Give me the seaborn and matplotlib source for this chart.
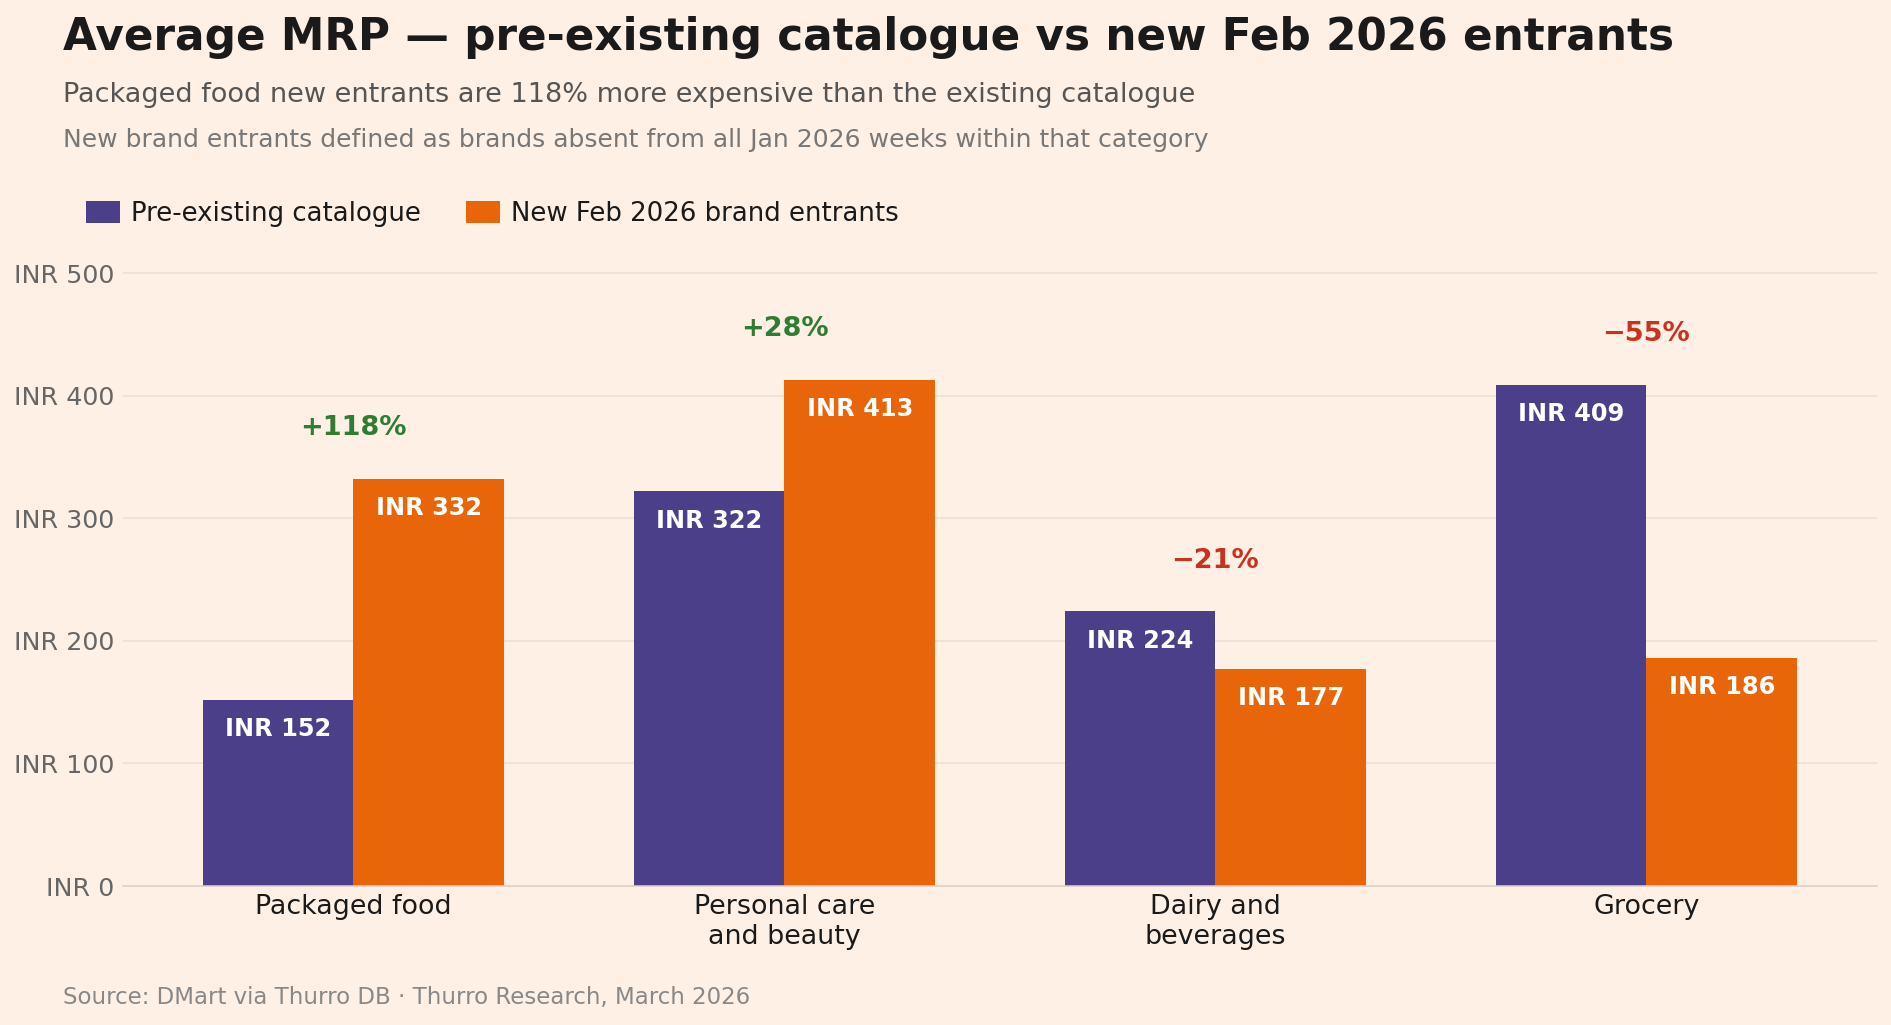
import matplotlib
matplotlib.use("Agg")
import matplotlib.pyplot as plt
from matplotlib.patches import Patch
import seaborn as sns
import pandas as pd

categories = ["Packaged food", "Personal care\nand beauty", "Dairy and\nbeverages", "Grocery"]
pre_existing = [152, 322, 224, 409]
new_entrants = [332, 413, 177, 186]
pct_labels = ["+118%", "+28%", "\u221221%", "\u221255%"]
series_names = ["Pre-existing catalogue", "New Feb 2026 brand entrants"]
y_ticks = [0, 100, 200, 300, 400, 500]

BG = "#FFF0E5"
PURPLE = "#4B3F89"
ORANGE = "#E8650A"
GREEN = "#2E7D32"
RED = "#C8321E"

sns.set_theme(style="white")
plt.rcParams["font.family"] = ["DejaVu Sans"]

df = pd.DataFrame({
    "category": categories * 2,
    "value": pre_existing + new_entrants,
    "series": [series_names[0]] * 4 + [series_names[1]] * 4,
})

fig = plt.figure(figsize=(18.91, 10.25), dpi=100, facecolor=BG)
ax = fig.add_axes([0.065, 0.1356, 0.9276, 0.598])
ax.set_facecolor(BG)

sns.barplot(data=df, x="category", y="value", hue="series", order=categories,
            hue_order=series_names, palette=[PURPLE, ORANGE], width=0.7,
            saturation=1, legend=False, ax=ax, errorbar=None, linewidth=0)

ax.set_ylim(0, 500)
ax.set_xlim(-0.535, 3.535)
ax.set_yticks(y_ticks)
ax.set_yticklabels([f"INR {v}" for v in y_ticks])
ax.set_xlabel("")
ax.set_ylabel("")
ax.yaxis.grid(True, color="#EADFD6", linewidth=1.1)
for gl in ax.get_ygridlines():
    gl.set_clip_on(False)
ax.set_axisbelow(True)
for s in ["top", "right", "left"]:
    ax.spines[s].set_visible(False)
ax.spines["bottom"].set_color("#DDD3CB")
ax.spines["bottom"].set_linewidth(1.1)
ax.tick_params(axis="y", length=0, pad=6, labelsize=18.3, labelcolor="#666666")
ax.tick_params(axis="x", length=0, pad=6, labelsize=19.4, labelcolor="#1A1A1A")

half = 0.175
for i in range(len(categories)):
    a, b = pre_existing[i], new_entrants[i]
    ax.text(i - half, a - 24, f"INR {a}", ha="center", va="center", color="white",
            fontsize=17.3, fontweight="bold")
    ax.text(i + half, b - 24, f"INR {b}", ha="center", va="center", color="white",
            fontsize=17.3, fontweight="bold")
    col = GREEN if b >= a else RED
    ax.text(i, max(a, b) + 41.5, pct_labels[i], ha="center", va="center", color=col,
            fontsize=19.5, fontweight="bold", clip_on=False)

fig.text(0.0333, 0.963, "Average MRP \u2014 pre-existing catalogue vs new Feb 2026 entrants",
         ha="left", va="center", fontsize=31.5, fontweight="bold", color="#1A1A1A")
fig.text(0.0333, 0.907, "Packaged food new entrants are 118% more expensive than the existing catalogue",
         ha="left", va="center", fontsize=19.5, color="#555555")
fig.text(0.0333, 0.863, "New brand entrants defined as brands absent from all Jan 2026 weeks within that category",
         ha="left", va="center", fontsize=18, color="#777777")
fig.text(0.0333, 0.027, "Source: DMart via Thurro DB \u00b7 Thurro Research, March 2026",
         ha="left", va="center", fontsize=16.5, color="#888888")

handles = [Patch(facecolor=PURPLE, edgecolor="none"), Patch(facecolor=ORANGE, edgecolor="none")]
fig.legend(handles, series_names, loc="center left", bbox_to_anchor=(0.0454, 0.791),
           ncol=2, frameon=False, fontsize=18.7, handlelength=1.3, handleheight=0.9,
           handletextpad=0.45, columnspacing=1.72, borderpad=0, borderaxespad=0,
           labelcolor="#1A1A1A")

fig.savefig("out.png", dpi=100, facecolor=BG)
